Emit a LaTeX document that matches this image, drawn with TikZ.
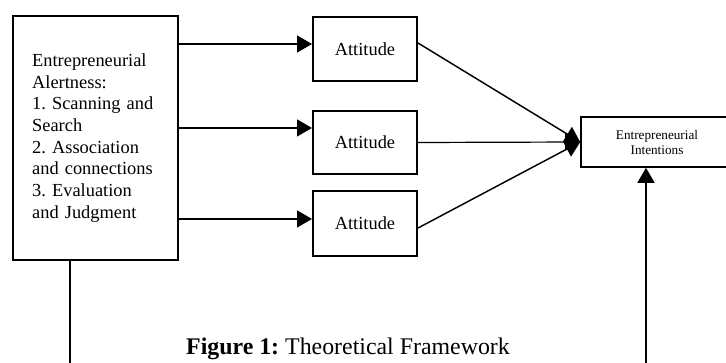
\documentclass[tikz,border=0pt]{standalone}
\usepackage{fontspec}
\setmainfont{Liberation Serif}
\usetikzlibrary{arrows.meta}
\frenchspacing

\tikzset{
  box/.style={draw, line width=1.5pt, rectangle, inner sep=0pt},
  thinbox/.style={draw, line width=1.2pt, rectangle, inner sep=0pt},
  arr/.style={line width=1.1pt, -{Triangle[length=11.25pt, width=12.75pt]}},
  bodytext/.style={font=\fontsize{13.8}{16.3}\selectfont},
  smalltext/.style={font=\fontsize{9.9}{11.25}\selectfont},
}

\begin{document}
\begin{tikzpicture}[x=0.75pt, y=-0.75pt]
  \useasboundingbox (0,0) rectangle (726,363);
  \clip (0,0) rectangle (726,363);

  % alertness dimensions
  \node[box, bodytext, minimum width=123.75pt, minimum height=183pt,
        text width=95pt, align=left] (alert) at (95.5,138)
    {Entrepreneurial\\Alertness:\\1. Scanning and\\Search\\2. Association\\and connections\\3. Evaluation\\and Judgment};

  % attitudes
  \node[box, bodytext, minimum width=78pt, minimum height=48pt] (att1) at (365,49) {Attitude};
  \node[box, bodytext, minimum width=78pt, minimum height=47.25pt] (att2) at (365,142.5) {Attitude};
  \node[box, bodytext, minimum width=78pt, minimum height=48.75pt] (att3) at (365,223.5) {Attitude};

  % outcome
  \node[thinbox, smalltext, minimum width=114pt, minimum height=37.5pt, align=center] (ei) at (657,142)
    {Entrepreneurial\\Intentions};

  % alertness -> attitudes
  \draw[arr] ([yshift=3.75pt]att1.west -| alert.east) -- ([yshift=3.75pt]att1.west);
  \draw[arr] ([yshift=10.9pt]att2.west -| alert.east) -- ([yshift=10.9pt]att2.west);
  \draw[arr] ([yshift=3.4pt]att3.west -| alert.east) -- ([yshift=3.4pt]att3.west);

  % attitudes -> intentions
  \draw[arr] ([yshift=4.5pt]att1.east) -- (ei.west);
  \draw[arr, line width=0.9pt] (att2.east) -- (ei.west);
  \draw[arr] ([yshift=-3.4pt]att3.east) -- (ei.west);

  % direct path along the bottom
  \draw[arr] ([xshift=-19.1pt]alert.south) -- ++(0,130) -| ([xshift=-8.25pt]ei.south);

  % caption
  \node[font=\fontsize{17.9}{20}\selectfont, anchor=base] (cap) at (348,355)
    {\textbf{Figure 1:} Theoretical Framework};
\end{tikzpicture}
\end{document}
